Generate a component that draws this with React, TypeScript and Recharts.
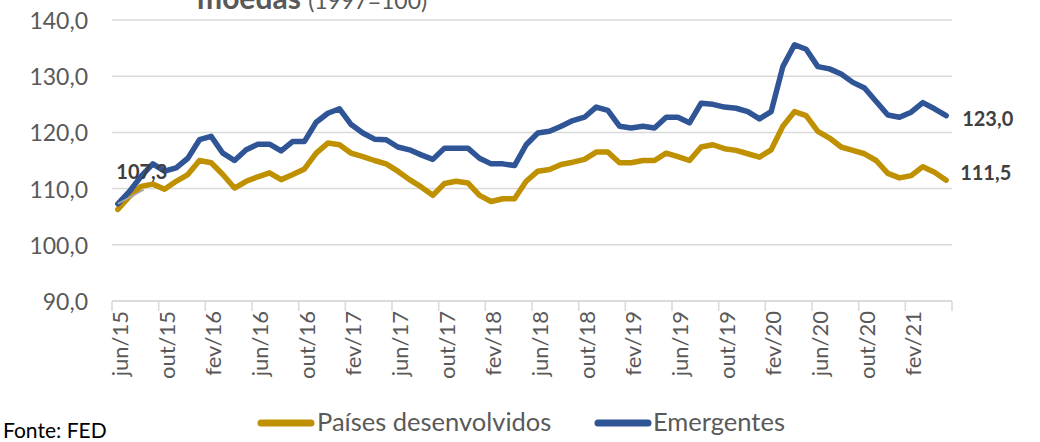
import { LineChart, Line, XAxis, YAxis, CartesianGrid, LabelList } from "recharts";

const months = [
  "jun/15", "jul/15", "ago/15", "set/15", "out/15", "nov/15", "dez/15",
  "jan/16", "fev/16", "mar/16", "abr/16", "mai/16", "jun/16", "jul/16", "ago/16", "set/16", "out/16", "nov/16", "dez/16",
  "jan/17", "fev/17", "mar/17", "abr/17", "mai/17", "jun/17", "jul/17", "ago/17", "set/17", "out/17", "nov/17", "dez/17",
  "jan/18", "fev/18", "mar/18", "abr/18", "mai/18", "jun/18", "jul/18", "ago/18", "set/18", "out/18", "nov/18", "dez/18",
  "jan/19", "fev/19", "mar/19", "abr/19", "mai/19", "jun/19", "jul/19", "ago/19", "set/19", "out/19", "nov/19", "dez/19",
  "jan/20", "fev/20", "mar/20", "abr/20", "mai/20", "jun/20", "jul/20", "ago/20", "set/20", "out/20", "nov/20", "dez/20",
  "jan/21", "fev/21", "mar/21", "abr/21", "mai/21",
];

const desenvolvidos = [
  106.3, 108.6, 110.4, 110.8, 109.9, 111.3, 112.5,
  115.0, 114.6, 112.5, 110.1, 111.3, 112.1, 112.8, 111.6, 112.5, 113.5, 116.3, 118.1,
  117.8, 116.3, 115.7, 115.0, 114.4, 113.1, 111.6, 110.3, 108.8, 110.9, 111.3, 111.0,
  108.8, 107.7, 108.2, 108.2, 111.3, 113.1, 113.4, 114.3, 114.7, 115.2, 116.5, 116.5,
  114.6, 114.6, 115.0, 115.0, 116.3, 115.7, 115.0, 117.4, 117.8, 117.1, 116.8, 116.2,
  115.6, 116.9, 121.1, 123.7, 123.0, 120.2, 119.0, 117.4, 116.8, 116.2, 115.0, 112.7,
  111.9, 112.3, 113.9, 112.9, 111.5,
];

const emergentes = [
  107.3, 109.5, 112.2, 114.4, 113.1, 113.7, 115.4,
  118.7, 119.3, 116.3, 115.0, 116.9, 117.9, 117.9, 116.7, 118.4, 118.4, 121.8, 123.4,
  124.2, 121.4, 119.9, 118.8, 118.7, 117.4, 116.9, 116.0, 115.2, 117.2, 117.2, 117.2,
  115.4, 114.4, 114.4, 114.1, 117.8, 119.9, 120.2, 121.1, 122.1, 122.7, 124.5, 123.9,
  121.1, 120.8, 121.1, 120.8, 122.7, 122.7, 121.7, 125.2, 125.0, 124.5, 124.3, 123.7,
  122.4, 123.7, 131.7, 135.6, 134.8, 131.7, 131.3, 130.4, 128.9, 127.9, 125.5, 123.1,
  122.7, 123.6, 125.3, 124.2, 123.0,
];

const yTicks = [90, 100, 110, 120, 130, 140];

const data = months.map((m, i) => ({
  month: m,
  dev: desenvolvidos[i],
  emg: emergentes[i],
}));

const FONT = "Lato, 'Open Sans', sans-serif";
const GOLD = "#BF9000";
const BLUE = "#2F5597";
const GRID = "#D9D9D9";
const PLOT_W = 840;
const STEP = PLOT_W / months.length;
const AXIS_Y = 301;

const fmt = (v: number) => v.toFixed(1).replace(".", ",");

function YTick({ y, payload }: any) {
  return (
    <text x={88} y={y} textAnchor="end" dominantBaseline="central" fontSize={23} fill="#595959" fontFamily={FONT}>
      {fmt(payload.value)}
    </text>
  );
}

function XTick({ x, payload }: any) {
  const isLast = payload.value === months[months.length - 4];
  return (
    <g>
      <line x1={x - STEP / 2} x2={x - STEP / 2} y1={AXIS_Y} y2={AXIS_Y + 10} stroke={GRID} strokeWidth={1.5} />
      {isLast && (
        <line x1={x + STEP * 3.5} x2={x + STEP * 3.5} y1={AXIS_Y} y2={AXIS_Y + 10} stroke={GRID} strokeWidth={1.5} />
      )}
      <text
        transform={`translate(${x + 10},${AXIS_Y + 10}) rotate(-90)`}
        textAnchor="end"
        fontSize={22}
        fill="#595959"
        fontFamily={FONT}
      >
        {payload.value}
      </text>
    </g>
  );
}

function EmgLabel({ x, y, index, value }: any) {
  if (index === 0) {
    return (
      <g>
        <line x1={x} y1={y} x2={x + 26} y2={y - 14} stroke="#A6A6A6" strokeWidth={1.5} />
        <text x={x + 24} y={y - 33} textAnchor="middle" dominantBaseline="central" fontSize={20} fontWeight="bold" fill="#404040" fontFamily={FONT}>
          {fmt(value)}
        </text>
      </g>
    );
  }
  if (index === months.length - 1) {
    return (
      <text x={x + 16} y={y + 2} dominantBaseline="central" fontSize={20} fontWeight="bold" fill="#404040" fontFamily={FONT}>
        {fmt(value)}
      </text>
    );
  }
  return null;
}

function DevLabel({ x, y, index, value }: any) {
  if (index !== months.length - 1) return null;
  return (
    <text x={x + 14} y={y - 8} dominantBaseline="central" fontSize={20} fontWeight="bold" fill="#404040" fontFamily={FONT}>
      {fmt(value)}
    </text>
  );
}

export default function App() {
  return (
    <div style={{ position: "absolute", left: 0, top: 0, width: 1040, height: 442, background: "#fff", overflow: "hidden" }}>
      <LineChart width={1040} height={442} data={data} margin={{ top: 20, right: 88, left: 0, bottom: 81 }}>
        <CartesianGrid vertical={false} stroke={GRID} strokeWidth={1.5} />
        <XAxis
          dataKey="month"
          interval={3}
          height={60}
          padding={{ left: STEP / 2, right: STEP / 2 }}
          tickLine={false}
          axisLine={{ stroke: GRID, strokeWidth: 1.5 }}
          tick={<XTick />}
        />
        <YAxis
          width={112}
          domain={[90, 140]}
          ticks={yTicks}
          axisLine={false}
          tickLine={false}
          tick={<YTick />}
        />
        <Line
          dataKey="dev"
          stroke={GOLD}
          strokeWidth={5.5}
          dot={false}
          strokeLinejoin="round"
          strokeLinecap="round"
          isAnimationActive={false}
        >
          <LabelList dataKey="dev" content={<DevLabel />} />
        </Line>
        <Line
          dataKey="emg"
          stroke={BLUE}
          strokeWidth={5.5}
          dot={false}
          strokeLinejoin="round"
          strokeLinecap="round"
          isAnimationActive={false}
        >
          <LabelList dataKey="emg" content={<EmgLabel />} />
        </Line>
      </LineChart>
      <svg width={1040} height={442} style={{ position: "absolute", left: 0, top: 0, pointerEvents: "none" }}>
        <text x={197} y={9} fontSize={30} fontWeight="bold" fill="#595959" fontFamily={FONT}>
          moedas{" "}
          <tspan fontWeight="normal" fontSize={23}>(1997=100)</tspan>
        </text>
        <line x1={261} x2={311} y1={423} y2={423} stroke={GOLD} strokeWidth={7} strokeLinecap="round" />
        <text x={317} y={431} fontSize={25.5} fill="#595959" fontFamily={FONT}>Países desenvolvidos</text>
        <line x1={598} x2={648} y1={423} y2={423} stroke={BLUE} strokeWidth={7} strokeLinecap="round" />
        <text x={653} y={431} fontSize={25.5} fill="#595959" fontFamily={FONT}>Emergentes</text>
        <text x={3} y={438} fontSize={21} fill="#000" fontFamily={FONT}>Fonte: FED</text>
      </svg>
    </div>
  );
}
